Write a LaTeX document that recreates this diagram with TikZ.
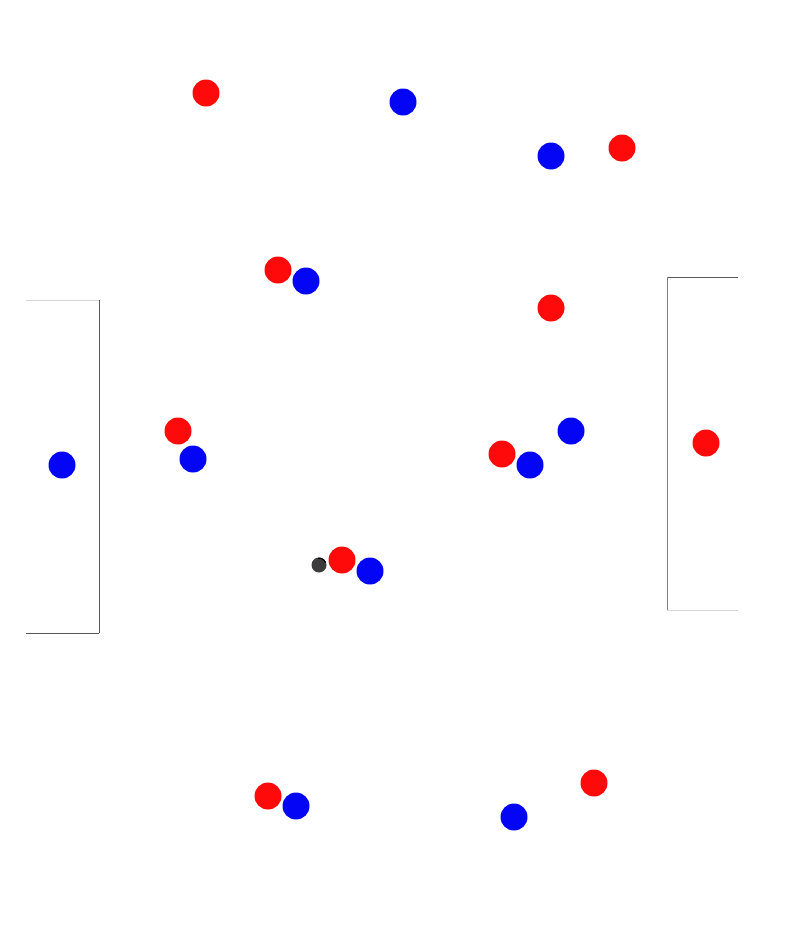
\documentclass[tikz,border=0pt]{standalone}
\begin{document}
\begin{tikzpicture}[x=1pt,y=-1pt,
  redp/.style={circle,fill={rgb,255:red,255;green,10;blue,10},draw=none,minimum size=27pt,inner sep=0pt},
  bluep/.style={circle,fill={rgb,255:red,5;green,5;blue,245},draw=none,minimum size=27pt,inner sep=0pt},
  ballp/.style={circle,fill={rgb,255:red,60;green,60;blue,60},draw=none,minimum size=15pt,inner sep=0pt},
  darkline/.style={draw={rgb,255:red,90;green,90;blue,90},line width=0.8pt},
  midline/.style={draw={rgb,255:red,130;green,130;blue,130},line width=0.8pt},
  lightline/.style={draw={rgb,255:red,215;green,215;blue,215},line width=0.8pt}]
\useasboundingbox (0,0) rectangle (797,929);
% left box
\coordinate (lt1) at (26,300); \coordinate (lt2) at (99,300);
\coordinate (lb1) at (26,633); \coordinate (lb2) at (99,633);
\draw[lightline] (lt1) -- (lt2);
\draw[darkline] (lt2) -- (lb2);
\draw[darkline] (lb1) -- (lb2);
% right box
\coordinate (rt1) at (667,277); \coordinate (rt2) at (738,277);
\coordinate (rb1) at (667,610); \coordinate (rb2) at (738,610);
\draw[darkline] (rt1) -- (rt2);
\draw[midline] (rt1) -- (rb1);
\draw[lightline] (rb1) -- (rb2);
% ball
\node[ballp] (ball) at (319,565) {};
\draw[black,line width=1.2pt] ([shift={(20:6.9pt)}]ball.center) arc[start angle=20,end angle=100,radius=6.9pt];
% red players
\node[redp] (r1) at (206,93) {};
\node[redp] (r2) at (622,148) {};
\node[redp] (r3) at (278,270) {};
\node[redp] (r4) at (551,308) {};
\node[redp] (r5) at (178,431) {};
\node[redp] (r6) at (502,454) {};
\node[redp] (r7) at (706,443) {};
\node[redp] (r8) at (342,560) {};
\node[redp] (r9) at (268,796) {};
\node[redp] (r10) at (594,783) {};
% blue players
\node[bluep] (b1) at (403,102) {};
\node[bluep] (b2) at (551,156) {};
\node[bluep] (b3) at (306,281) {};
\node[bluep] (b4) at (571,431) {};
\node[bluep] (b5) at (193,459) {};
\node[bluep] (b6) at (530,465) {};
\node[bluep] (b7) at (62,465) {};
\node[bluep] (b8) at (370,571) {};
\node[bluep] (b9) at (296,806) {};
\node[bluep] (b10) at (514,817) {};
\end{tikzpicture}
\end{document}
